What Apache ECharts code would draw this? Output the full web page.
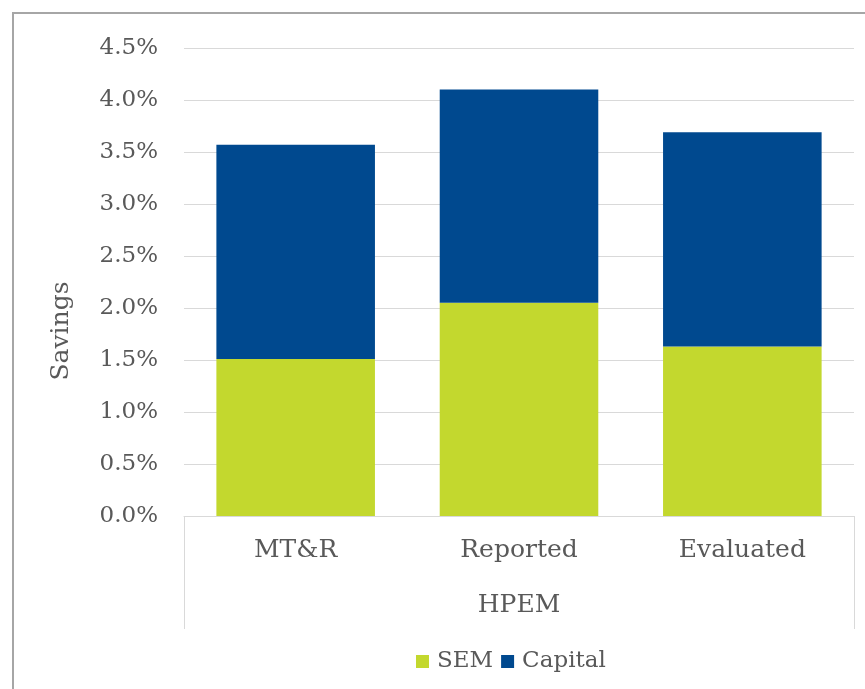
<!DOCTYPE html>
<html><head><meta charset="utf-8">
<script src="https://cdn.jsdelivr.net/npm/echarts@6/dist/echarts.min.js"></script>
<style>html,body{margin:0;padding:0;background:#fff}#c{width:865px;height:689px}</style>
</head><body><div id="c"></div>
<script>
const categories = ['MT&R', 'Reported', 'Evaluated'];
const groupLabels = ['HPEM'];
const semValues = [1.51, 2.05, 1.63];
const capitalValues = [2.06, 2.05, 2.06];
const yTicks = { min: 0, max: 4.5, interval: 0.5 };
const yTitle = 'Savings';

const FONT = 'DejaVu Serif';
const TXT = '#595959';
const chart = echarts.init(document.getElementById('c'), null, { renderer: 'canvas' });
chart.setOption({
  animation: false,
  backgroundColor: '#fff',
  textStyle: { fontFamily: FONT, color: TXT },
  graphic: [{
    type: 'rect', shape: { x: 13, y: 13, width: 900, height: 900 },
    style: { fill: 'none', stroke: '#a6a6a6', lineWidth: 2 }
  }, {
    type: 'text', x: 61, y: 331, rotation: Math.PI / 2,
    style: { text: yTitle, fontFamily: FONT, fontSize: 25, fill: TXT,
      align: 'center', verticalAlign: 'middle' }
  }],
  grid: { left: 184, right: 11, top: 48, bottom: 173 },
  legend: {
    bottom: 11, left: 411, icon: 'rect', itemWidth: 13, itemHeight: 13, itemGap: 8,
    textStyle: { fontFamily: FONT, fontSize: 23, color: TXT, padding: [0, 0, 0, 3] },
    data: ['SEM', 'Capital']
  },
  xAxis: [{
    type: 'category', data: categories, position: 'bottom',
    axisLine: { show: true, lineStyle: { color: '#d9d9d9', width: 1 } },
    axisTick: { show: false },
    axisLabel: { fontFamily: FONT, fontSize: 25, color: TXT, margin: 22 }
  }, {
    type: 'category', data: groupLabels, position: 'bottom',
    axisLine: { show: false },
    axisTick: { show: true, length: 113, lineStyle: { color: '#d9d9d9', width: 1 } },
    axisLabel: { fontFamily: FONT, fontSize: 25, color: TXT, margin: 77 }
  }],
  yAxis: {
    type: 'value', min: yTicks.min, max: yTicks.max, interval: yTicks.interval,
    axisLine: { show: false }, axisTick: { show: false },
    splitLine: { lineStyle: { color: '#d9d9d9', width: 1 } },
    axisLabel: { fontFamily: FONT, fontSize: 23, color: TXT, margin: 26,
      formatter: v => v.toFixed(1) + '%' }
  },
  series: [{
    name: 'SEM', type: 'bar', stack: 's', data: semValues, xAxisIndex: 0,
    barCategoryGap: '29%', itemStyle: { color: '#c3d82e' }
  }, {
    name: 'Capital', type: 'bar', stack: 's', data: capitalValues, xAxisIndex: 0,
    barCategoryGap: '29%', itemStyle: { color: '#00498f' }
  }]
});
</script></body></html>
